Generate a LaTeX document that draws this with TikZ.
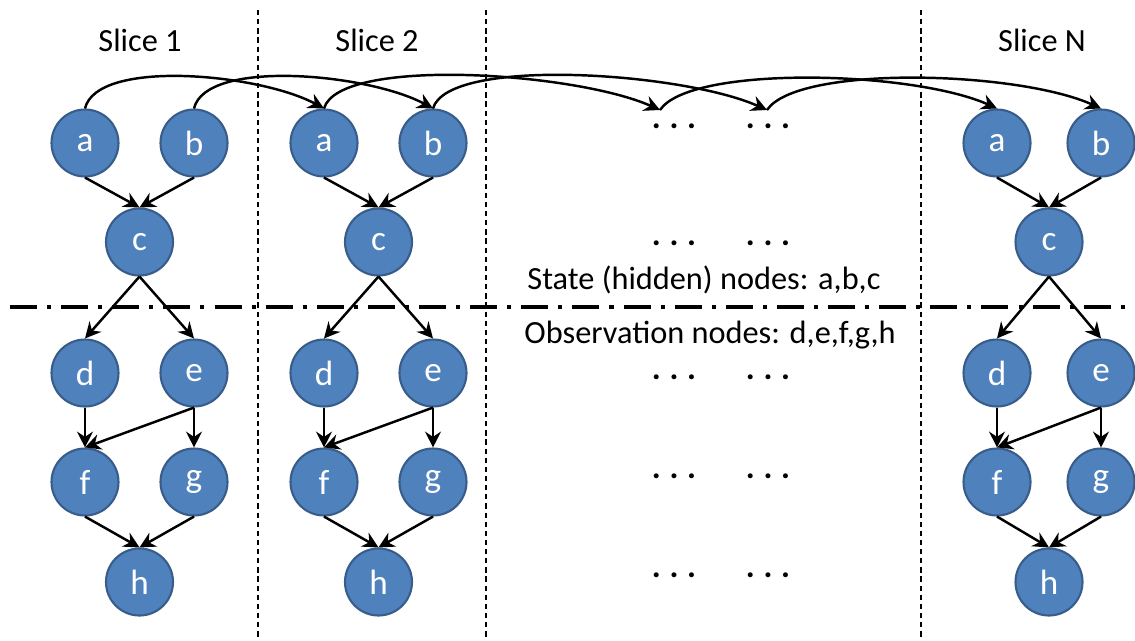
\documentclass[tikz,border=0pt]{standalone}
\usepackage{fontspec}
\setmainfont{Carlito}
\usepackage{tikz}
\usetikzlibrary{arrows.meta,calc}
\definecolor{nodeblue}{HTML}{4F81BD}
\definecolor{nodeedge}{HTML}{385D8A}
\newcommand{\dotrow}{\textbf{.}\hspace{5pt}\textbf{.}\hspace{5pt}\textbf{.}}

\begin{document}
\begin{tikzpicture}[x=0.02cm,y=-0.02cm,
  var/.style={circle,fill=nodeblue,draw=nodeedge,line width=1.2pt,minimum size=1.34cm,inner sep=0pt,
    text=white,font=\fontsize{20}{24}\selectfont},
  lbl/.style={font=\fontsize{18.4}{22}\selectfont},
  gap/.style={font=\fontsize{19}{22}\selectfont,inner sep=0pt,text height=3pt,text depth=0pt},
  edge/.style={line width=1.4pt,-{Stealth[length=9pt,width=9pt,inset=3pt]}},
  sep/.style={line width=0.9pt,dash pattern=on 3pt off 2.2pt},
  layer/.style={line width=1.8pt,dash pattern=on 15.4pt off 5.7pt on 2.3pt off 5.7pt}]
\useasboundingbox (0,0) rectangle (1135,640);

% separators
\coordinate (v1t) at (258,10);  \coordinate (v1b) at (258,640);
\coordinate (v2t) at (486,10);  \coordinate (v2b) at (486,640);
\coordinate (v3t) at (921,10);  \coordinate (v3b) at (921,640);
\coordinate (hl) at (10,307);   \coordinate (hr) at (1135,307);
\draw[sep] (v1t) -- (v1b);
\draw[sep] (v2t) -- (v2b);
\draw[sep] (v3t) -- (v3b);
\draw[layer] (hl) -- (hr);

\node[lbl] (s1) at (140,40) {Slice 1};
\node[lbl] (s2) at (377,40) {Slice 2};
\node[lbl] (sN) at (1042,40) {Slice N};

% slice 1
\node[var] (a1) at (85,143) {a};
\node[var] (b1) at (194,143) {b};
\node[var] (c1) at (139.5,242) {c};
\node[var] (d1) at (85,373) {d};
\node[var] (e1) at (194,373) {e};
\node[var] (f1) at (85,482) {f};
\node[var] (g1) at (194,482) {g};
\node[var] (h1) at (139.5,582) {h};

% slice 2
\node[var] (a2) at (324,143) {a};
\node[var] (b2) at (433,143) {b};
\node[var] (c2) at (378.5,242) {c};
\node[var] (d2) at (324,373) {d};
\node[var] (e2) at (433,373) {e};
\node[var] (f2) at (324,482) {f};
\node[var] (g2) at (433,482) {g};
\node[var] (h2) at (378.5,582) {h};

% slice N
\node[var] (aN) at (997,143) {a};
\node[var] (bN) at (1101,143) {b};
\node[var] (cN) at (1049,242) {c};
\node[var] (dN) at (997,373) {d};
\node[var] (eN) at (1101,373) {e};
\node[var] (fN) at (997,482) {f};
\node[var] (gN) at (1101,482) {g};
\node[var] (hN) at (1049,582) {h};

% the slices in between
\node[gap] (pL1) at (674,126) {\dotrow};
\node[gap] (pR1) at (768,126) {\dotrow};
\node[gap] (pL2) at (674,243) {\dotrow};
\node[gap] (pR2) at (768,243) {\dotrow};
\node[gap] (pL3) at (674,377) {\dotrow};
\node[gap] (pR3) at (768,377) {\dotrow};
\node[gap] (pL4) at (674,476) {\dotrow};
\node[gap] (pR4) at (768,476) {\dotrow};
\node[gap] (pL5) at (674,575) {\dotrow};
\node[gap] (pR5) at (768,575) {\dotrow};
\coordinate (t1) at (660,110);
\coordinate (t2) at (767,110);

\node[lbl] (st) at (704,280) {State (hidden) nodes: a,b,c};
\node[lbl] (ob) at (710,335) {Observation nodes: d,e,f,g,h};

% within each slice
\foreach \s in {1,2,N}{
  \draw[edge] (a\s.south) -- (c\s.north);
  \draw[edge] (b\s.south) -- (c\s.north);
  \draw[edge] (c\s.south) -- (d\s.north);
  \draw[edge] (c\s.south) -- (e\s.north);
  \draw[edge] (d\s.south) -- (f\s.north);
  \draw[edge] (e\s.south) -- (f\s.north);
  \draw[edge] (e\s.south) -- (g\s.north);
  \draw[edge] (f\s.south) -- (h\s.north);
  \draw[edge] (g\s.south) -- (h\s.north);
}

% between slices
\draw[edge] (a1.north) .. controls +(12,-50) and +(-65,-35) .. (a2.north);
\draw[edge] (b1.north) .. controls +(12,-50) and +(-65,-35) .. (b2.north);
\draw[edge] (a2.north) .. controls +(15,-52) and +(-85,-38) .. (t1);
\draw[edge] (b2.north) .. controls +(15,-52) and +(-85,-38) .. (t2);
\draw[edge] (t1) .. controls +(30,-45) and +(-85,-38) .. (aN.north);
\draw[edge] (t2) .. controls +(30,-45) and +(-85,-38) .. (bN.north);
\end{tikzpicture}
\end{document}
